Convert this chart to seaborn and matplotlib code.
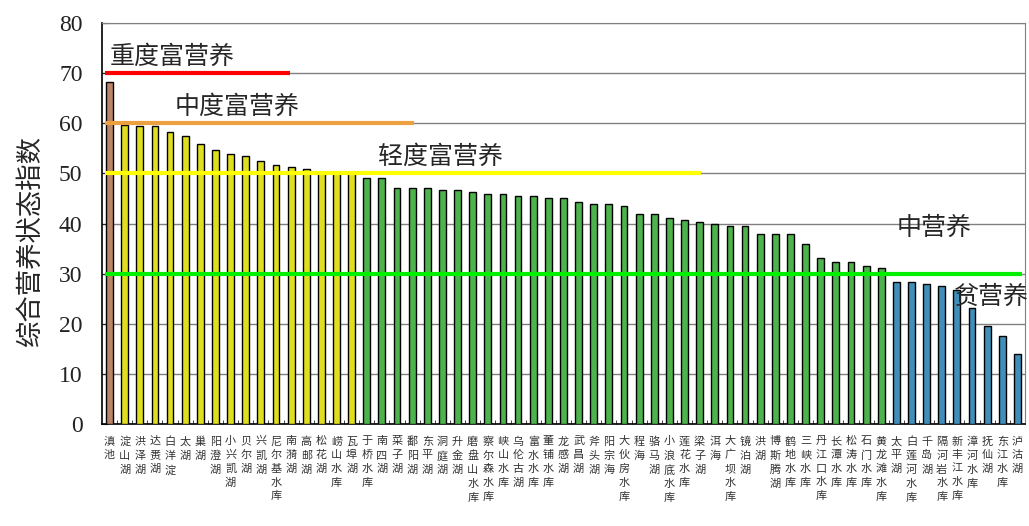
import matplotlib
matplotlib.use("Agg")
import matplotlib.pyplot as plt
import seaborn as sns
import pandas as pd
from matplotlib.ticker import MultipleLocator

# 湖库名称（按营养状态指数由高到低）
names = [
    "滇池", "淀山湖", "洪泽湖", "达赉湖", "白洋淀", "太湖", "巢湖", "阳澄湖",
    "小兴凯湖", "贝尔湖", "兴凯湖", "尼尔基水库", "南漪湖", "高邮湖", "松花湖",
    "崂山水库", "瓦埠湖", "于桥水库", "南四湖", "菜子湖", "鄱阳湖", "东平湖",
    "洞庭湖", "升金湖", "磨盘山水库", "察尔森水库", "峡山水库", "乌伦古湖",
    "富水水库", "董铺水库", "龙感湖", "武昌湖", "斧头湖", "阳宗海", "大伙房水库",
    "程海", "骆马湖", "小浪底水库", "莲花水库", "梁子湖", "洱海", "大广坝水库",
    "镜泊湖", "洪湖", "博斯腾湖", "鹤地水库", "三峡水库", "丹江口水库", "长潭水库",
    "松涛水库", "石门水库", "黄龙滩水库", "太平湖", "白莲河水库", "千岛湖",
    "隔河岩水库", "新丰江水库", "漳河水库", "抚仙湖", "东江水库", "泸沽湖",
]

tli = [
    68.3, 59.7, 59.5, 59.5, 58.3, 57.5, 55.9, 54.7, 53.9, 53.5, 52.4, 51.6,
    51.2, 50.8, 50.3, 50.2, 50.1,
    49.0, 49.0, 47.0, 47.0, 47.0, 46.7, 46.7, 46.2, 45.9, 45.9, 45.5, 45.5,
    45.0, 45.0, 44.3, 43.9, 43.9, 43.5, 41.9, 41.9, 41.2, 40.7, 40.4, 39.9,
    39.6, 39.6, 37.9, 37.9, 37.9, 35.9, 33.1, 32.3, 32.3, 31.5, 31.1,
    28.3, 28.3, 27.9, 27.6, 26.7, 23.1, 19.6, 17.6, 14.0,
]

# 营养状态分级
groups = ["中度"] * 1 + ["轻度"] * 16 + ["中营养"] * 35 + ["贫营养"] * 9
group_colors = {"中度": "#C8805A", "轻度": "#FFFF00",
                "中营养": "#3CC43C", "贫营养": "#2A95CF"}

# 分级线: (指数, 结束位置, 颜色, 文字, 文字x, 文字y)
levels = [
    (70, 11.9, "#FF0000", "重度富营养", 0.0, 73.2),
    (60, 20.1, "#EDA040", "中度富营养", 4.3, 63.3),
    (50, 39.1, "#FFFF00", "轻度富营养", 17.75, 53.3),
    (30, 60.3, "#00F000", "中营养", 52.0, 39.1),
]
poor_label = ("贫营养", 55.8, 25.3)

df = pd.DataFrame({"湖库": names, "指数": tli, "分级": groups})
df["标签"] = ["\n".join(n) for n in df["湖库"]]

sns.set_style("white")
plt.rcParams["font.family"] = ["Noto Sans CJK SC", "DejaVu Sans"]

fig = plt.figure(figsize=(10.29, 5.26), dpi=100)
ax = fig.add_axes([0.0991, 0.194, 0.8970, 0.762])

sns.barplot(data=df, x="标签", y="指数", hue="分级", palette=group_colors,
            dodge=False, width=0.45, edgecolor="black", linewidth=1.0,
            legend=False, ax=ax, zorder=3)

ax.set_ylim(0, 80)
ax.set_xlim(-0.5, len(names) - 0.5)
ax.yaxis.set_major_locator(MultipleLocator(10))
ax.grid(axis="y", color="#808080", linewidth=1.0, zorder=0)
ax.set_axisbelow(True)

for val, x_end, col, txt, tx, ty in levels:
    ax.hlines(val, -0.33, x_end, color=col, linewidth=3, zorder=4)
    ax.text(tx, ty, txt, fontsize=18, ha="left", va="center", zorder=5)
ax.text(poor_label[1], poor_label[2], poor_label[0], fontsize=18,
        ha="left", va="center", zorder=5)

for s in ["left", "bottom"]:
    ax.spines[s].set_color("black")
    ax.spines[s].set_linewidth(1.2)
ax.spines["right"].set_color("#808080")
ax.spines["top"].set_color("#808080")

ax.set_xlabel("")
ax.set_ylabel("")
ax.tick_params(axis="y", direction="in", length=4, left=True, pad=14)
ax.tick_params(axis="x", length=0, pad=9)
ax.set_xticks(range(len(names)))
ax.set_xticklabels(df["标签"], fontsize=8, linespacing=1.45,
                   va="top", color="#333333")
ax.set_xticks([i + 0.5 for i in range(len(names) - 1)], minor=True)
ax.tick_params(axis="x", which="minor", direction="in", length=3, bottom=True)
for lab in ax.get_yticklabels():
    lab.set_fontfamily(["Liberation Serif"])
    lab.set_fontsize(17)
    lab.set_color("#222222")

fig.text(30 / 1029, 1 - 240 / 526, "综合营养状态指数", rotation=90,
         ha="center", va="center", fontsize=19)

fig.savefig("out.png", dpi=100, facecolor="white")
